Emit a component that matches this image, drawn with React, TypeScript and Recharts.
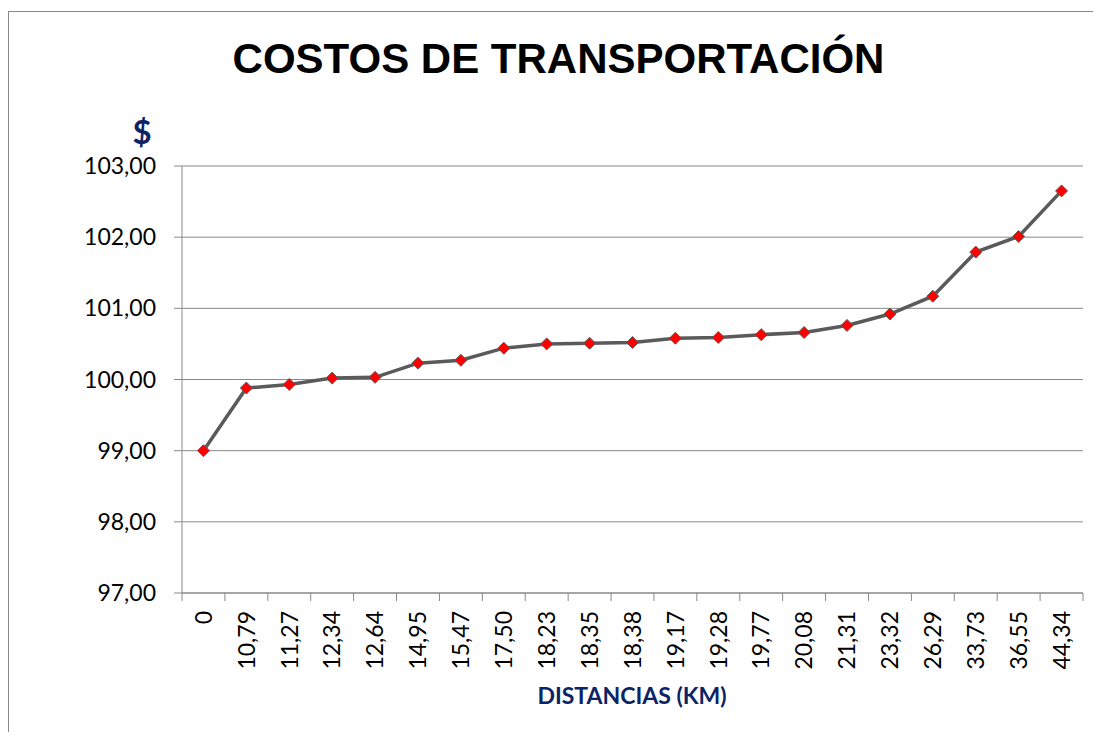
import { LineChart, Line, XAxis, YAxis, CartesianGrid } from 'recharts';

// distances (km) shown as category labels, and the cost at each one
const distances = ['0', '10,79', '11,27', '12,34', '12,64', '14,95', '15,47', '17,50', '18,23', '18,35', '18,38', '19,17', '19,28', '19,77', '20,08', '21,31', '23,32', '26,29', '33,73', '36,55', '44,34'];
const costs = [99.0, 99.88, 99.93, 100.02, 100.03, 100.23, 100.27, 100.44, 100.5, 100.51, 100.52, 100.58, 100.59, 100.63, 100.66, 100.76, 100.92, 101.17, 101.79, 102.01, 102.65];
const yTicks = [97, 98, 99, 100, 101, 102, 103];

const W = 1085;
const H = 720;
const MARGIN = { top: 154, right: 11, left: 0, bottom: 0 };
const Y_AXIS_W = 173;
const X_AXIS_H = 139;
const PLOT_W = W - MARGIN.left - MARGIN.right - Y_AXIS_W;
const BAND = PLOT_W / distances.length;

const GRID = '#898989';
const NAVY = '#0b2466';
const TICK_FONT = 'Lato, "Noto Sans", sans-serif';

const fmt = (v: number) => v.toFixed(2).replace('.', ',');

// Excel-style category ticks: marks on the band edges, labels turned up
const XTick = (props: any) => {
  const { x, y, payload, index } = props;
  const last = index === distances.length - 1;
  return (
    <g>
      <line x1={x - BAND / 2} y1={y} x2={x - BAND / 2} y2={y + 8} stroke={GRID} />
      {last && <line x1={x + BAND / 2} y1={y} x2={x + BAND / 2} y2={y + 8} stroke={GRID} />}
      <g transform={`translate(${x},${y + 18})`}>
        <text transform="rotate(-90)" textAnchor="end" dy="0.36em" fontSize={23} fontFamily={TICK_FONT} fill="#000">
          {payload.value}
        </text>
      </g>
    </g>
  );
};

const Diamond = (props: any) => {
  const { cx, cy } = props;
  if (cx == null || cy == null) return null;
  const r = 6;
  return (
    <polygon
      points={`${cx},${cy - r} ${cx + r},${cy} ${cx},${cy + r} ${cx - r},${cy}`}
      fill="#ff0000"
      stroke="#5a5a5a"
      strokeWidth={1}
    />
  );
};

export default function App() {
  const data = distances.map((d, i) => ({ distance: d, cost: costs[i] }));

  return (
    <div style={{ paddingTop: 3 }}>
      <div
        style={{
          position: 'relative',
          width: W,
          height: H,
          borderLeft: `1px solid ${GRID}`,
          borderTop: `1px solid ${GRID}`,
          background: '#fff',
        }}
      >
        <LineChart width={W} height={H} data={data} margin={MARGIN}>
          <CartesianGrid horizontal vertical={false} stroke={GRID} />
          <XAxis
            dataKey="distance"
            height={X_AXIS_H}
            padding={{ left: BAND / 2, right: BAND / 2 }}
            interval={0}
            tickSize={0}
            tickMargin={0}
            tickLine={false}
            axisLine={{ stroke: GRID }}
            tick={<XTick />}
          />
          <YAxis
            width={Y_AXIS_W}
            domain={[97, 103]}
            ticks={yTicks}
            interval={0}
            tickFormatter={fmt}
            tickSize={8}
            tickMargin={18}
            axisLine={{ stroke: GRID }}
            tickLine={{ stroke: GRID }}
            tick={{ fontSize: 23, fontFamily: TICK_FONT, fill: '#000' }}
          />
          <Line
            type="linear"
            dataKey="cost"
            stroke="#5a5a5a"
            strokeWidth={3.5}
            dot={<Diamond />}
            activeDot={false}
            isAnimationActive={false}
          />
        </LineChart>
        <svg width={W} height={H} style={{ position: 'absolute', left: 0, top: 0, pointerEvents: 'none' }}>
          <text x={549.5} y={60.5} textAnchor="middle" fontFamily='"Liberation Sans", Arial, sans-serif' fontWeight="bold" fontSize={42} fill="#000">
            COSTOS DE TRANSPORTACIÓN
          </text>
          <text x={133} y={132} textAnchor="middle" fontFamily={TICK_FONT} fontWeight="bold" fontSize={33} fill={NAVY}>
            $
          </text>
          <text x={623} y={692} textAnchor="middle" fontFamily={TICK_FONT} fontWeight="bold" fontSize={23} fill={NAVY}>
            DISTANCIAS (KM)
          </text>
        </svg>
      </div>
    </div>
  );
}
